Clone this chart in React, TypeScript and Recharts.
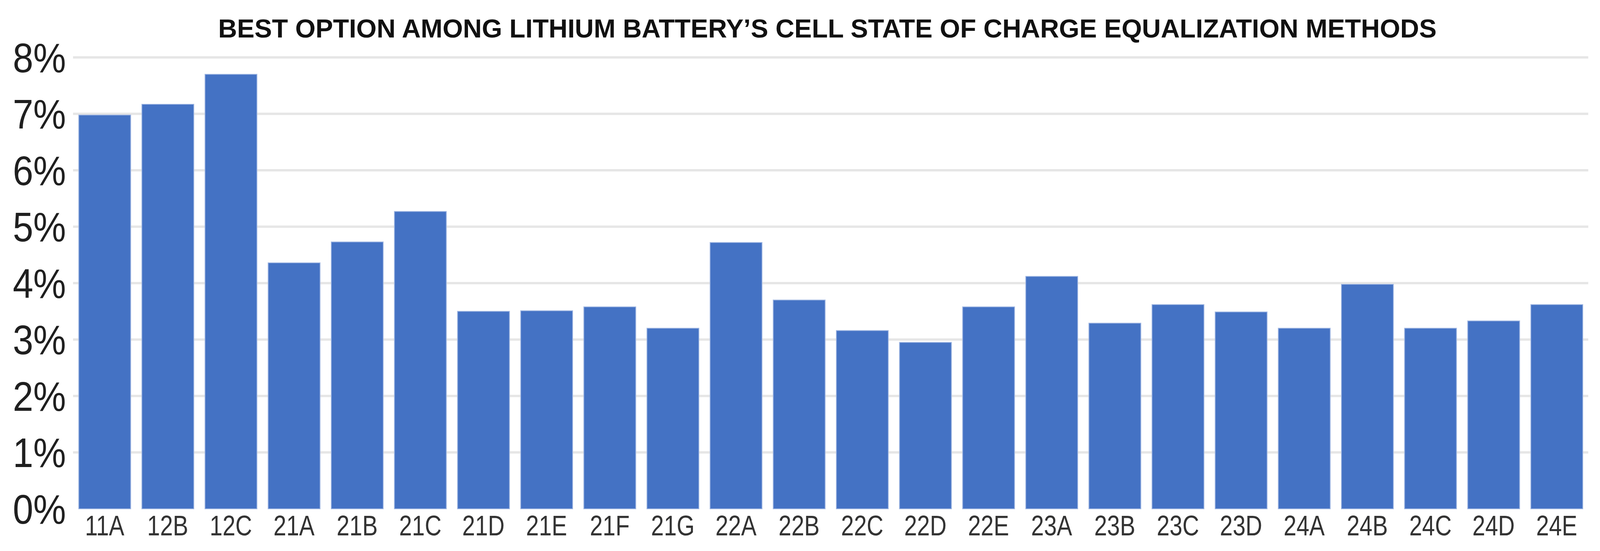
import React from 'react';
import { BarChart, Bar, XAxis, YAxis, CartesianGrid } from 'recharts';

const categories = ['11A', '12B', '12C', '21A', '21B', '21C', '21D', '21E', '21F', '21G', '22A', '22B', '22C', '22D', '22E', '23A', '23B', '23C', '23D', '24A', '24B', '24C', '24D', '24E'];
const values = [6.98, 7.17, 7.7, 4.36, 4.73, 5.27, 3.5, 3.51, 3.58, 3.2, 4.72, 3.7, 3.16, 2.95, 3.58, 4.12, 3.29, 3.62, 3.49, 3.2, 3.98, 3.2, 3.33, 3.62];
const yTicks = [0, 1, 2, 3, 4, 5, 6, 7, 8];
const gridValues = [1, 2, 3, 4, 5, 6, 7, 8];
const title = 'BEST OPTION AMONG LITHIUM BATTERY\u2019S CELL STATE OF CHARGE EQUALIZATION METHODS';

const data = categories.map((c, i) => ({ name: c, value: values[i] }));

const FONT = '"Liberation Sans", Arial, sans-serif';

function XTick(props: any) {
  const { x, y, payload } = props;
  return (
    <g transform={`translate(${x},${y})`}>
      <text
        transform="scale(0.81,1)"
        x={0}
        y={0}
        dy="0.71em"
        textAnchor="middle"
        fontFamily={FONT}
        fontSize={73}
        fill="#333333"
      >
        {payload.value}
      </text>
    </g>
  );
}

function YTick(props: any) {
  const { x, y, payload } = props;
  return (
    <g transform={`translate(${x},${y})`}>
      <text
        transform="scale(0.89,1)"
        x={0}
        y={0}
        dy="0.355em"
        textAnchor="end"
        fontFamily={FONT}
        fontSize={106}
        fill="#1f1f1f"
      >
        {`${payload.value}%`}
      </text>
    </g>
  );
}

export default function App() {
  return (
    <div style={{ position: 'relative', width: 4080, height: 1395, background: '#ffffff' }}>
      <div
        style={{
          position: 'absolute',
          left: 0,
          top: 31,
          width: 4220,
          textAlign: 'center',
          fontFamily: FONT,
          fontWeight: 700,
          fontSize: 67,
          lineHeight: '67px',
          color: '#111111',
          whiteSpace: 'nowrap',
        }}
      >
        {title}
      </div>
      <BarChart
        width={4080}
        height={1395}
        data={data}
        margin={{ top: 139, right: 22, left: 0, bottom: 10 }}
        barCategoryGap="9%"
      >
        <CartesianGrid horizontal={true} vertical={false} stroke="#e6e6e6" strokeWidth={6} horizontalValues={gridValues} />
        <XAxis
          dataKey="name"
          height={90}
          axisLine={false}
          tickLine={false}
          tickSize={0}
          tickMargin={16}
          interval={0}
          tick={<XTick />}
        />
        <YAxis
          width={179}
          domain={[0, 8]}
          ticks={yTicks}
          interval={0}
          axisLine={false}
          tickLine={false}
          tickSize={0}
          tickMargin={18}
          tick={<YTick />}
        />
        <Bar dataKey="value" fill="#4472C4" stroke="#9fb6e2" strokeWidth={2} isAnimationActive={false} />
      </BarChart>
    </div>
  );
}
